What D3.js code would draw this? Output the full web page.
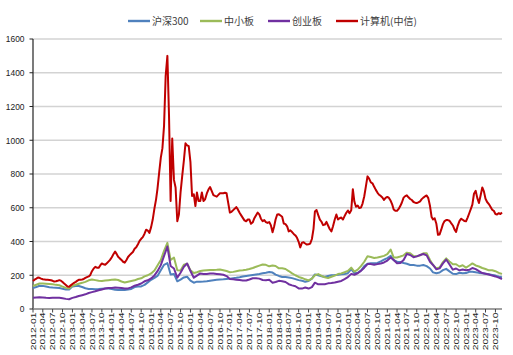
<!DOCTYPE html>
<html><head><meta charset="utf-8">
<script src="https://cdn.jsdelivr.net/npm/d3@7"></script>
<style>body{margin:0;background:#fff}svg{display:block}</style>
</head><body>
<svg id="c" width="513" height="355"></svg>
<script>
// Series names
const seriesNames = ["沪深300", "中小板", "创业板", "计算机(中信)"];
const seriesColors = ["#4f81bd", "#9bbb59", "#7030a0", "#c00000"];

// Monthly values (2012-01 .. 2023-12), normalized index levels
const hs300 = [124,130,138,137,133,129,127,126,124,120,116,115,
134,136,136,130,123,119,118,117,118,120,122,121,
118,114,113,113,113,115,119,130,133,134,143,158,
173,184,196,230,262,272,205,208,164,174,187,191,
168,156,162,162,163,165,168,171,173,175,176,178,
180,183,185,188,192,196,199,202,205,208,212,215,
219,216,204,196,190,189,187,183,177,171,167,162,
166,180,205,200,194,190,196,200,201,203,206,208,
212,236,212,215,228,254,268,271,271,273,282,292,
302,315,290,280,279,273,268,261,261,257,257,261,
254,240,217,212,216,230,238,223,209,207,215,212,
213,221,221,218,214,212,209,206,202,198,191,188];

const zxb = [136,144,151,151,150,148,146,143,141,133,125,122,
138,144,150,155,161,170,175,171,167,166,169,171,
173,175,172,163,157,162,166,170,178,182,193,200,
211,228,258,290,345,392,290,305,229,228,262,268,
230,213,218,225,228,230,231,231,232,234,230,225,
218,220,224,228,230,233,237,243,250,257,264,262,
253,258,255,241,241,237,225,211,200,190,184,176,
169,180,200,207,196,188,183,191,198,207,211,218,
226,245,222,233,254,280,312,308,302,305,310,315,
325,352,305,305,311,318,334,330,314,312,318,330,
330,290,261,241,246,278,300,281,265,265,252,259,
245,258,270,258,252,243,237,229,230,224,214,208];

const cyb = [66,68,69,68,66,65,66,66,67,64,60,58,
66,71,77,82,87,95,100,105,111,116,121,124,
125,127,126,124,121,122,128,138,144,151,164,170,
181,199,224,260,315,370,255,240,186,215,250,270,
225,185,198,211,208,208,210,210,208,206,203,195,
178,176,174,172,169,169,175,182,182,180,172,170,
173,156,160,167,165,160,147,140,135,122,121,127,
121,130,156,146,147,147,152,154,157,162,166,177,
189,208,203,212,226,245,266,266,262,266,270,276,
287,305,290,271,272,290,326,320,307,312,320,326,
318,280,261,235,241,270,293,264,233,240,229,234,
230,232,243,236,225,213,209,204,198,193,186,178];

// Half-monthly values (1st and 16th of each month, 2012-01-01 .. 2023-12-01)
const jsj = [166,174,180,187,185,180,176,175,174,173,172,170,167,163,164,167,171,168,160,151,142,133,132,140,
148,155,161,168,173,174,175,178,184,189,193,202,224,239,250,245,244,258,270,265,262,271,281,291,
307,324,340,325,310,300,291,280,275,289,308,319,329,338,357,366,384,404,416,426,446,470,465,451,
485,530,596,650,712,804,897,953,1085,1380,1500,1150,640,1010,765,720,520,560,690,785,880,982,970,965,
870,670,680,610,690,640,640,690,640,650,685,708,723,700,675,670,666,676,686,686,686,689,686,630,
572,576,586,595,604,590,570,555,540,525,520,530,530,505,514,538,556,571,561,535,520,527,515,510,
515,497,455,490,530,560,561,554,547,507,503,490,460,466,456,445,436,422,398,365,393,395,388,382,
383,387,415,475,578,587,556,530,517,497,500,516,495,474,460,490,530,560,530,538,542,530,550,569,
584,567,585,710,637,606,613,598,601,625,668,727,786,773,750,745,724,706,690,677,670,661,646,658,
664,658,641,618,590,582,582,593,610,631,660,669,674,662,652,646,634,630,628,632,638,651,660,667,
673,657,610,545,531,538,505,440,442,470,503,521,527,527,523,509,495,472,457,493,521,535,529,522,
520,542,569,595,618,683,700,657,628,671,720,697,653,634,622,606,588,582,563,560,568,563,572];

// Axis tick labels
const yTicks = [0,200,400,600,800,1000,1200,1400,1600];
const xTickLabels = [];
for (let y = 2012; y <= 2023; y++) for (const m of ["01","04","07","10"]) xTickLabels.push(y + "-" + m);

// ---------- drawing ----------
const svg = d3.select("#c");
const parse = d3.timeParse("%Y-%m-%d");
const monthDate = i => new Date(2012, i, 1);
const halfDate = i => new Date(2012, Math.floor(i / 2), i % 2 ? 16 : 1);

const L = 33, R = 502, T = 39, B = 309;
const x = d3.scaleTime().domain([new Date(2012,0,1), new Date(2023,11,1)]).range([L, R]);
const y = d3.scaleLinear().domain([0, 1600]).range([B, T]);

// gridlines
svg.append("g").selectAll("line").data(yTicks.filter(d => d > 0)).join("line")
  .attr("x1", L).attr("x2", R).attr("y1", d => y(d)).attr("y2", d => y(d))
  .attr("stroke", "#d3d3d3").attr("stroke-width", 1.3);

// y axis
const yAxis = svg.append("g");
yAxis.append("line").attr("x1", L).attr("x2", L).attr("y1", T).attr("y2", B).attr("stroke", "#222").attr("stroke-width", 1.2);
yAxis.selectAll("line.t").data(yTicks).join("line").attr("class","t")
  .attr("x1", L - 3.5).attr("x2", L).attr("y1", d => y(d)).attr("y2", d => y(d)).attr("stroke", "#222").attr("stroke-width", 1);
yAxis.selectAll("text").data(yTicks).join("text")
  .attr("transform", d => `translate(24.5,${y(d)}) scale(0.86,1)`)
  .attr("text-anchor", "end").attr("dy", "0.35em")
  .attr("font-family", "Liberation Sans, Arial, sans-serif").attr("font-size", "9.8px").attr("fill", "#222")
  .text(d => d);

// series lines
const line = d3.line().x(d => x(d[0])).y(d => y(d[1]));
const seriesData = [
  hs300.map((v, i) => [monthDate(i), v]),
  zxb.map((v, i) => [monthDate(i), v]),
  cyb.map((v, i) => [monthDate(i), v]),
  jsj.map((v, i) => [halfDate(i), v])
];
seriesData.forEach((s, k) => {
  svg.append("path").datum(s).attr("d", line).attr("fill", "none")
    .attr("stroke", seriesColors[k]).attr("stroke-width", 2).attr("stroke-linejoin", "round");
});

// x axis
const xAxis = svg.append("g");
xAxis.append("line").attr("x1", L).attr("x2", R).attr("y1", B).attr("y2", B).attr("stroke", "#7f7f7f").attr("stroke-width", 1.6);
const tickDates = xTickLabels.map(s => parse(s + "-01"));
xAxis.selectAll("line.t").data(tickDates).join("line").attr("class","t")
  .attr("x1", d => x(d)).attr("x2", d => x(d)).attr("y1", B).attr("y2", B + 3.5).attr("stroke", "#444").attr("stroke-width", 1);
xAxis.selectAll("text").data(xTickLabels).join("text")
  .attr("transform", (d, i) => `translate(${x(tickDates[i])},312.5) rotate(-90) scale(1,0.72)`)
  .attr("text-anchor", "end").attr("dy", "0.35em")
  .attr("font-family", "Liberation Sans, Arial, sans-serif").attr("font-size", "10.3px").attr("fill", "#222")
  .text(d => d);

// legend
const legendX = [128, 200, 268, 336];
const lg = svg.append("g");
seriesNames.forEach((n, k) => {
  lg.append("line").attr("x1", legendX[k]).attr("x2", legendX[k] + 22).attr("y1", 21).attr("y2", 21)
    .attr("stroke", seriesColors[k]).attr("stroke-width", 2.4);
  lg.append("text").attr("x", legendX[k] + 24).attr("y", 21).attr("dy", "0.36em")
    .attr("font-family", "Noto Sans CJK SC, sans-serif").attr("font-size", "10px").attr("fill", "#404040")
    .text(n);
});
</script>
</body></html>
